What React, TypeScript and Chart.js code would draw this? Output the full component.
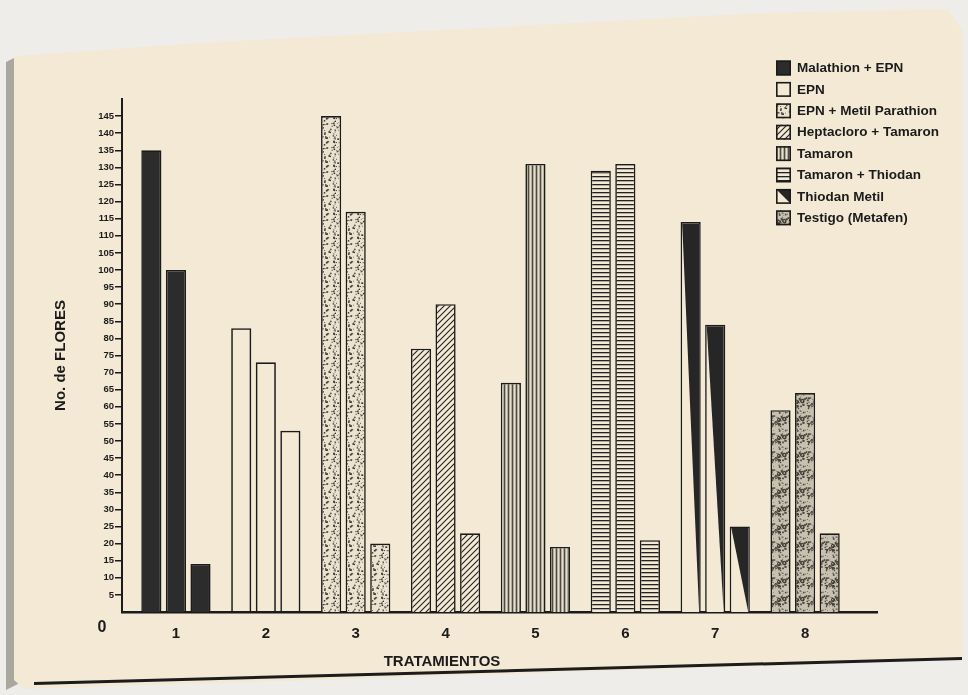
import React, { useEffect, useRef } from 'react';
import { Chart, registerables } from 'chart.js';

Chart.register(...registerables);

// ---- data ----
const categories = ['1', '2', '3', '4', '5', '6', '7', '8'];
const treatments = [
  'Malathion + EPN',
  'EPN',
  'EPN + Metil Parathion',
  'Heptacloro + Tamaron',
  'Tamaron',
  'Tamaron + Thiodan',
  'Thiodan Metil',
  'Testigo (Metafen)',
];
const barA = [135, 83, 145, 77, 67, 129, 114, 59];
const barB = [100, 73, 117, 90, 131, 131, 84, 64];
const barC = [14, 53, 20, 23, 19, 21, 25, 23];
const yTickValues = [5, 10, 15, 20, 25, 30, 35, 40, 45, 50, 55, 60, 65, 70, 75, 80, 85, 90, 95, 100, 105, 110, 115, 120, 125, 130, 135, 140, 145];
const yTitle = 'No. de FLORES';
const xTitle = 'TRATAMIENTOS';
const zeroLabel = '0';

const PAPER = '#f3e9d5';
const INK = '#1b1b1b';
const FONT = '"Liberation Sans", Arial, sans-serif';

function lcg(seed: number) {
  let s = seed;
  return () => {
    s = (s * 16807) % 2147483647;
    return s / 2147483647;
  };
}

function makePattern(w: number, h: number, draw: (g: CanvasRenderingContext2D) => void): CanvasPattern | string {
  const c = document.createElement('canvas');
  c.width = w;
  c.height = h;
  const g = c.getContext('2d');
  if (!g) return PAPER;
  draw(g);
  return g.createPattern(c, 'repeat') || PAPER;
}

function buildFills(): (CanvasPattern | string)[] {
  const solid = '#2c2c2c';
  const empty = 'rgba(0,0,0,0)';
  const stipple = makePattern(24, 24, (g) => {
    g.fillStyle = '#ebe2cf';
    g.fillRect(0, 0, 24, 24);
    const r = lcg(7);
    g.fillStyle = '#3a3630';
    for (let i = 0; i < 80; i++) {
      const x = r() * 24, y = r() * 24, s = 0.7 + r() * 0.9;
      g.fillRect(x, y, s, s);
    }
  });
  const hatch = makePattern(6, 6, (g) => {
    g.fillStyle = PAPER;
    g.fillRect(0, 0, 6, 6);
    g.strokeStyle = '#222';
    g.lineWidth = 1.1;
    g.beginPath();
    g.moveTo(-1, 7); g.lineTo(7, -1);
    g.moveTo(-1, 1); g.lineTo(1, -1);
    g.moveTo(5, 7); g.lineTo(7, 5);
    g.stroke();
  });
  const vertical = makePattern(4, 4, (g) => {
    g.fillStyle = '#b3ac9d';
    g.fillRect(0, 0, 4, 4);
    g.fillStyle = '#4e4a44';
    g.fillRect(0, 0, 1, 4);
    g.fillStyle = '#e6dfcd';
    g.fillRect(2, 0, 1, 4);
  });
  const horizontal = makePattern(4, 4, (g) => {
    g.fillStyle = PAPER;
    g.fillRect(0, 0, 4, 4);
    g.fillStyle = '#222';
    g.fillRect(0, 0, 4, 1.3);
  });
  const triangleBase = PAPER;
  const mottled = makePattern(18, 18, (g) => {
    g.fillStyle = '#c9c1b0';
    g.fillRect(0, 0, 18, 18);
    const r = lcg(31);
    g.fillStyle = '#4a453d';
    for (let i = 0; i < 45; i++) {
      const x = r() * 18, y = r() * 18, s = 0.8 + r() * 1.2;
      g.fillRect(x, y, s, s);
    }
    g.strokeStyle = '#3a362f';
    g.lineWidth = 0.9;
    for (let i = 0; i < 4; i++) {
      g.beginPath();
      g.arc(2 + r() * 14, 2 + r() * 14, 1.6, 0, Math.PI * 2);
      g.stroke();
    }
  });
  return [solid, empty, stipple, hatch, vertical, horizontal, triangleBase, mottled];
}

const thiodanIndex = treatments.indexOf('Thiodan Metil');

export default function App() {
  const ref = useRef<HTMLCanvasElement | null>(null);

  useEffect(() => {
    if (!ref.current) return;
    const fills = buildFills();
    const borderW = 1.6;

    const decor = {
      id: 'decor',
      afterDatasetsDraw(chart: any) {
        const ctx = chart.ctx;
        ctx.save();
        ctx.fillStyle = '#262626';
        chart.data.datasets.forEach((_: any, di: number) => {
          const meta = chart.getDatasetMeta(di);
          const el = meta.data[thiodanIndex];
          if (!el) return;
          const p = el.getProps(['x', 'y', 'base', 'width'], true);
          const l = p.x - p.width / 2 + borderW;
          const r = p.x + p.width / 2 - borderW;
          const t = p.y + borderW;
          const b = p.base;
          ctx.beginPath();
          ctx.moveTo(l, t);
          ctx.lineTo(r, t);
          ctx.lineTo(r, b);
          ctx.closePath();
          ctx.fill();
        });
        ctx.restore();
      },
      afterDraw(chart: any) {
        const ctx = chart.ctx;
        const area = chart.chartArea;
        ctx.save();
        // zero label and x title
        ctx.fillStyle = INK;
        ctx.textAlign = 'center';
        ctx.textBaseline = 'middle';
        ctx.font = `bold 16px ${FONT}`;
        ctx.fillText(zeroLabel, area.left - 20, area.bottom + 16);
        ctx.font = `bold 15px ${FONT}`;
        ctx.fillText(xTitle, area.left + 320, area.bottom + 50);
        // legend
        const lx = 776;
        const ly0 = 68;
        const step = 21.4;
        const box = 15;
        treatments.forEach((name, i) => {
          const yc = ly0 + i * step;
          const bx = lx, by = yc - box / 2;
          ctx.fillStyle = PAPER;
          ctx.fillRect(bx, by, box, box);
          ctx.fillStyle = fills[i] as any;
          ctx.fillRect(bx, by, box, box);
          if (i === thiodanIndex) {
            ctx.fillStyle = '#262626';
            ctx.beginPath();
            ctx.moveTo(bx, by);
            ctx.lineTo(bx + box, by);
            ctx.lineTo(bx + box, by + box);
            ctx.closePath();
            ctx.fill();
          }
          ctx.strokeStyle = INK;
          ctx.lineWidth = 1.6;
          ctx.strokeRect(bx + 0.8, by + 0.8, box - 1.6, box - 1.6);
          ctx.fillStyle = INK;
          ctx.textAlign = 'left';
          ctx.textBaseline = 'middle';
          ctx.font = `bold 13.5px ${FONT}`;
          ctx.fillText(name, lx + 21, yc + 0.5);
        });
        ctx.restore();
      },
    };

    const mkData = (vals: number[]) => vals.map((v, i) => ({ x: i + 1, y: v }));

    const chart = new Chart(ref.current, {
      type: 'bar',
      data: {
        datasets: [
          { label: 'a', data: mkData(barA) as any, backgroundColor: fills as any, borderColor: INK, borderWidth: borderW },
          { label: 'b', data: mkData(barB) as any, backgroundColor: fills as any, borderColor: INK, borderWidth: borderW },
          { label: 'c', data: mkData(barC) as any, backgroundColor: fills as any, borderColor: INK, borderWidth: borderW },
        ],
      },
      options: {
        animation: false,
        responsive: false,
        maintainAspectRatio: false,
        layout: { padding: { left: 0, top: 99, right: 91, bottom: 0 } },
        datasets: { bar: { categoryPercentage: 0.82, barPercentage: 0.82, borderSkipped: 'bottom' } },
        plugins: {
          legend: { display: false },
          tooltip: { enabled: false },
        },
        scales: {
          x: {
            type: 'linear',
            offset: false,
            min: 0.4,
            max: 8.8,
            afterBuildTicks: (axis: any) => {
              axis.ticks = categories.map((_, i) => ({ value: i + 1 }));
            },
            afterFit: (scale: any) => {
              scale.height = 83;
            },
            grid: { display: false, drawTicks: false, offset: false },
            border: { display: true, color: INK, width: 2.5 },
            ticks: {
              color: INK,
              padding: 13,
              autoSkip: false,
              maxRotation: 0,
              font: { family: FONT, size: 15, weight: 'bold' },
              callback: (v: any) => categories[Math.round(Number(v)) - 1] ?? '',
            },
          },
          y: {
            type: 'linear',
            min: 0,
            max: 150,
            afterBuildTicks: (axis: any) => {
              axis.ticks = yTickValues.map((v) => ({ value: v }));
            },
            afterFit: (scale: any) => {
              scale.width = 122;
            },
            grid: { drawOnChartArea: false, drawTicks: true, tickLength: 7, color: INK, lineWidth: 1.5 },
            border: { display: true, color: INK, width: 2 },
            ticks: {
              color: INK,
              padding: 1,
              autoSkip: false,
              font: { family: FONT, size: 9.5, weight: 'bold' },
            },
            title: {
              display: true,
              text: yTitle,
              color: INK,
              padding: { top: 52, bottom: 0 },
              font: { family: FONT, size: 15, weight: 'bold' },
            },
          },
        },
      },
      plugins: [decor],
    });

    return () => chart.destroy();
  }, []);

  return (
    <div style={{ position: 'fixed', left: 0, top: 0, width: 968, height: 695, background: '#eeedea', overflow: 'hidden' }}>
      <div style={{ position: 'absolute', inset: 0, background: '#aaa79f', clipPath: 'polygon(6px 62px, 18px 56px, 18px 684px, 6px 690px)' }} />
      <div
        style={{
          position: 'absolute',
          inset: 0,
          background: PAPER,
          clipPath: 'polygon(14px 56px, 200px 43px, 760px 13px, 948px 9px, 962px 30px, 962px 660px, 24px 689px, 14px 680px)',
        }}
      />
      <div style={{ position: 'absolute', inset: 0, background: '#1c1c1c', clipPath: 'polygon(34px 682px, 962px 657px, 962px 660px, 34px 685px)' }} />
      <canvas ref={ref} width={968} height={695} style={{ position: 'absolute', left: 0, top: 0, width: 968, height: 695 }} />
    </div>
  );
}
